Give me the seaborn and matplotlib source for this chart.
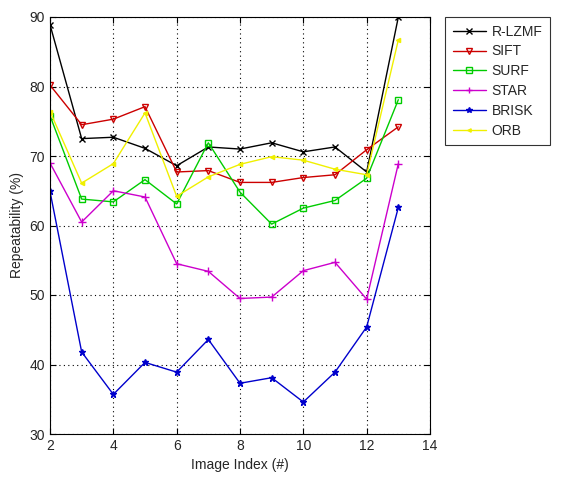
import matplotlib
matplotlib.use("Agg")
import matplotlib.pyplot as plt
import seaborn as sns
import pandas as pd

x_index = [2, 3, 4, 5, 6, 7, 8, 9, 10, 11, 12, 13]
r_lzmf = [88.9, 72.5, 72.7, 71.1, 68.6, 71.3, 71.0, 71.9, 70.6, 71.3, 67.7, 90.0]
sift = [80.2, 74.5, 75.3, 77.1, 67.7, 67.9, 66.2, 66.2, 66.9, 67.3, 70.9, 74.2]
surf = [75.8, 63.8, 63.4, 66.6, 63.1, 71.9, 64.8, 60.2, 62.5, 63.6, 66.8, 78.1]
star = [69.0, 60.5, 65.0, 64.1, 54.5, 53.4, 49.5, 49.7, 53.5, 54.7, 49.4, 68.9]
brisk = [64.9, 41.8, 35.7, 40.3, 38.9, 43.6, 37.3, 38.1, 34.6, 38.9, 45.4, 62.6]
orb = [76.4, 66.1, 68.9, 76.2, 64.2, 67.0, 68.8, 69.9, 69.4, 68.1, 67.3, 86.7]

names = ["R-LZMF", "SIFT", "SURF", "STAR", "BRISK", "ORB"]
series = [r_lzmf, sift, surf, star, brisk, orb]
colors = ["#000000", "#cc0000", "#00cc00", "#cc00cc", "#0000cc", "#f0f000"]
markers = ["x", "v", "s", "+", "*", "<"]
msizes = [5, 5, 5, 6, 5, 3]
mfill = ["none", "none", "none", "none", "#0000cc", "#f0f000"]

sns.set_style("white")
plt.rcParams['font.family'] = ['Liberation Sans', 'DejaVu Sans']

fig = plt.figure(figsize=(5.62, 4.82), dpi=100)
ax = fig.add_axes([50/562, 1-434/482, 380/562, 417/482])

for name, vals, c, m, ms, mf in zip(names, series, colors, markers, msizes, mfill):
    df = pd.DataFrame({"x": x_index, "y": vals})
    sns.lineplot(data=df, x="x", y="y", ax=ax, color=c, marker=m, label=name,
                 linewidth=1.0, markersize=ms, markerfacecolor=mf,
                 markeredgecolor=c, markeredgewidth=1.0)

ax.set_xlim(2, 14)
ax.set_ylim(30, 90)
ax.set_xticks(range(2, 15, 2))
ax.set_yticks(range(30, 91, 10))
ax.tick_params(labelsize=10, direction="in", length=4, color="black",
               left=True, bottom=True, right=True, top=True)
ax.grid(True, linestyle=(0, (1, 3)), color="black", linewidth=0.8)
for s in ax.spines.values():
    s.set_color("black")
    s.set_linewidth(0.8)
ax.set_xlabel("Image Index (#)", fontsize=10)
ax.set_ylabel("Repeatability (%)", fontsize=10)

leg = ax.legend(loc="upper left", bbox_to_anchor=((445 - 50) / 380, 1.0), fontsize=10,
                frameon=True, fancybox=False, edgecolor="black", handlelength=2.4,
                handletextpad=0.4, labelspacing=0.42, borderpad=0.55,
                borderaxespad=0.0, markerscale=0.8)
leg.get_frame().set_linewidth(0.8)

fig.savefig("out.png", dpi=100)
